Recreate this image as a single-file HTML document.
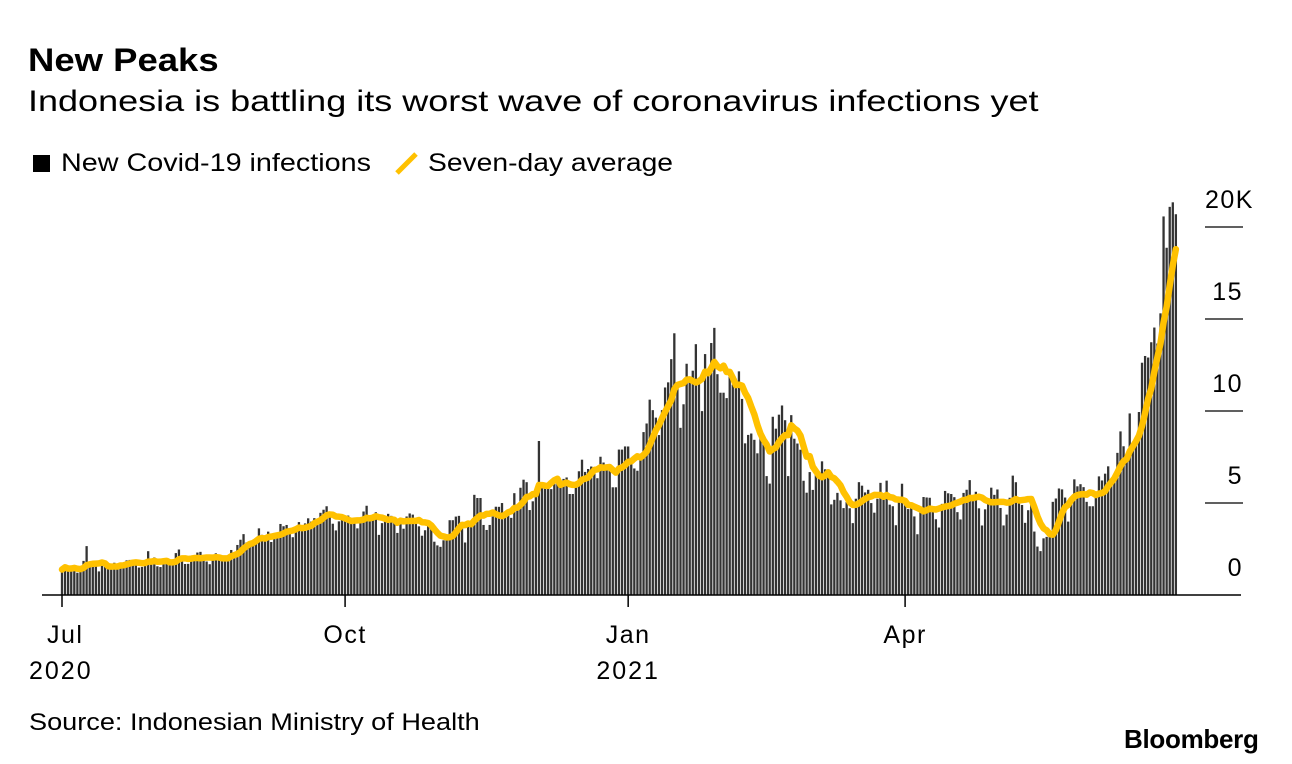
<!DOCTYPE html>
<html><head><meta charset="utf-8"><style>
body{margin:0;background:#fff;font-family:"Liberation Sans",sans-serif;}
#wrap{position:relative;width:1292px;height:764px;overflow:hidden;}
.t{position:absolute;white-space:nowrap;color:#000;transform-origin:left top;}
</style></head><body>
<div id="wrap">
<div class="t" style="left:28px;top:42px;font-size:32px;font-weight:bold;transform:scaleX(1.14);">New Peaks</div>
<div class="t" style="left:28px;top:85px;font-size:30px;transform:scaleX(1.2);">Indonesia is battling its worst wave of coronavirus infections yet</div>
<div class="t" style="left:33px;top:149px;font-size:25px;"><span style="display:inline-block;width:17px;height:17px;background:#000;margin-right:11px;vertical-align:-1px"></span><span style="display:inline-block;transform:scaleX(1.15);transform-origin:left">New Covid-19 infections</span></div>
<div class="t" style="left:394px;top:149px;font-size:25px;"><svg width="26" height="24" style="vertical-align:-4px;margin-right:8px"><line x1="3" y1="22" x2="22" y2="3" stroke="#ffc100" stroke-width="5"/></svg><span style="display:inline-block;transform:scaleX(1.13);transform-origin:left">Seven-day average</span></div>
<svg id="chart" width="1292" height="764" style="position:absolute;left:0;top:0"></svg>
<div class="t" style="left:29px;top:709px;font-size:24px;transform:scaleX(1.13);">Source: Indonesian Ministry of Health</div>
<div class="t" style="left:1124px;top:724px;font-size:26px;font-weight:bold;letter-spacing:-0.3px;">Bloomberg</div>
</div>
<script>
const jul=[1.385,1.624,1.301,1.447,1.607,1.209,1.268,1.853,2.657,1.611,1.671,1.681,1.282,1.591,1.522,1.574,1.462,1.752,1.639,1.693,1.655,1.882,1.906,1.761,1.868,1.492,1.525,1.748,2.381,1.904,2.040];
const aug=[1.560,1.519,1.679,1.922,1.815,1.882,2.277,2.473,1.893,1.687,1.693,1.942,2.098,2.307,2.345,2.081,1.821,1.673,1.902,2.266,2.197,2.035,2.037,1.877,2.447,2.306,2.719,3.003,3.308,2.858,2.743];
const sep=[2.775,3.075,3.622,3.269,3.128,3.444,2.880,3.046,3.307,3.861,3.737,3.806,3.636,3.141,3.507,3.963,3.635,3.891,4.168,3.989,4.176,4.071,4.465,4.634,4.823,4.494,3.874,3.509,4.002,4.284];
const oct=[4.174,4.317,4.007,3.992,3.622,4.056,4.538,4.850,4.094,4.294,4.497,3.267,3.906,4.127,4.411,4.301,4.105,3.373,4.069,3.602,4.267,4.432,4.369,4.070,3.732,3.222,3.520,4.029,3.565,2.897,2.696];
const nov=[2.618,2.973,3.143,4.065,4.065,4.262,4.301,3.880,2.853,3.779,3.770,5.444,5.272,5.272,3.807,3.535,3.807,4.265,4.798,4.792,4.998,4.360,4.442,4.192,5.534,4.917,5.828,6.267,6.131,4.617];
const dec=[5.092,5.533,8.369,5.803,6.027,6.089,5.754,6.058,6.120,6.033,6.310,6.388,5.489,5.489,6.120,6.725,7.354,6.689,6.848,6.982,6.848,6.347,7.514,7.199,6.808,6.982,5.854,5.854,7.903,7.903,8.074];
const jan=[8.072,7.203,6.877,6.753,7.445,8.854,9.321,10.617,10.046,9.640,8.692,10.047,11.278,11.557,12.818,14.224,11.287,9.086,10.365,12.568,11.703,12.191,13.632,11.788,9.994,13.094,11.948,13.695,14.518,12.001,10.994];
const feb=[10.994,10.701,11.984,11.434,11.749,12.156,10.656,8.242,8.700,8.776,8.435,7.700,8.844,8.317,6.462,6.054,9.687,9.039,9.800,10.300,9.500,6.462,9.775,8.493,8.232,7.896,6.208,5.560];
const mar=[6.680,5.712,6.808,6.565,7.264,6.830,6.825,4.924,5.174,5.550,5.144,4.723,5.046,4.714,3.906,5.233,6.132,5.942,5.575,5.718,4.996,4.474,5.227,6.095,5.305,6.216,4.911,4.825,3.792,5.124,6.048];
const apr=[4.871,4.671,4.836,4.270,3.302,4.549,5.325,5.300,5.285,4.649,4.117,3.667,4.952,5.656,5.528,5.489,5.317,4.503,4.106,5.549,5.720,6.243,5.436,5.611,4.711,3.778,4.656,5.241,5.833,5.444];
const may=[5.736,4.730,3.780,4.369,5.285,6.488,6.130,5.173,4.891,3.922,4.608,5.299,3.448,2.633,2.385,3.080,3.158,3.153,5.063,5.245,5.789,5.740,5.297,3.989,5.028,6.286,5.907,6.022,5.862,5.063,4.824];
const jun=[4.824,5.524,6.447,6.225,6.594,6.993,6.294,6.294,7.725,8.892,8.083,7.465,9.868,8.189,8.161,9.944,12.624,12.990,12.906,13.737,14.536,13.668,15.308,20.574,18.872,21.095,21.342,20.694];
const daily=[].concat(jul,aug,sep,oct,nov,dec,jan,feb,mar,apr,may,jun);
const yTicks=[0,5,10,15,20];
const yTickLabels=["0","5","10","15","20K"];
const xTickDays=[0,92,184,274];
const xTickLabels=["Jul","Oct","Jan","Apr"];
const xYearLabels=["2020","","2021",""];

const NS="http://www.w3.org/2000/svg";
const svg=document.getElementById('chart');
const X0=62,DX=3.077,Y0=595,PY=18.4;
const xs=i=>X0+i*DX;
const ys=v=>Y0-v*PY;
function mk(tag,attrs){const e=document.createElementNS(NS,tag);for(const k in attrs)e.setAttribute(k,attrs[k]);svg.appendChild(e);return e;}

daily.forEach((v,i)=>{
  const r=mk('rect',{x:(xs(i)-1.15).toFixed(2),y:ys(v).toFixed(2),width:2.3,height:(v*PY).toFixed(2),fill:'#333'});
  
  
});
const avg=daily.map((v,i)=>{const s=daily.slice(Math.max(0,i-6),i+1);return s.reduce((a,b)=>a+b,0)/s.length;});
const d=avg.map((v,i)=>(i?'L':'M')+xs(i).toFixed(2)+','+ys(v).toFixed(2)).join('');
const line=mk('path',{d:d,fill:'none',stroke:'#ffc100','stroke-width':6.5,'stroke-linejoin':'round','stroke-linecap':'round'});



const ax=mk('line',{x1:42,y1:Y0,x2:1241,y2:Y0,stroke:'#000','stroke-width':1.5});



const FONT='Liberation Sans, sans-serif';
yTicks.forEach((t,k)=>{
  if(t>0){const l=mk('line',{x1:1205,y1:ys(t),x2:1243,y2:ys(t),stroke:'#000','stroke-width':1.2});
  
  }
  const lab=mk('text',{x:t===20?1205:1243,y:ys(t)-19,'font-size':25,'font-family':FONT,'letter-spacing':1.5,'text-anchor':t===20?'start':'end'});
  lab.textContent=yTickLabels[k];
  
  
});
xTickDays.forEach((dd,k)=>{
  const x=xs(dd);
  const l=mk('line',{x1:x,y1:Y0,x2:x,y2:Y0+12,stroke:'#000','stroke-width':1.5});
  
  
  const t=mk('text',{x:k===0?47:x,y:643,'font-size':25,'font-family':FONT,'letter-spacing':1.5,'text-anchor':k===0?'start':'middle'});
  t.textContent=xTickLabels[k];
  
  
  if(xYearLabels[k]){
    const y=mk('text',{x:k===0?29:x,y:679,'font-size':25,'font-family':FONT,'letter-spacing':2,'text-anchor':k===0?'start':'middle'});
    y.textContent=xYearLabels[k];
    
    
  }
});
</script>
</body></html>
